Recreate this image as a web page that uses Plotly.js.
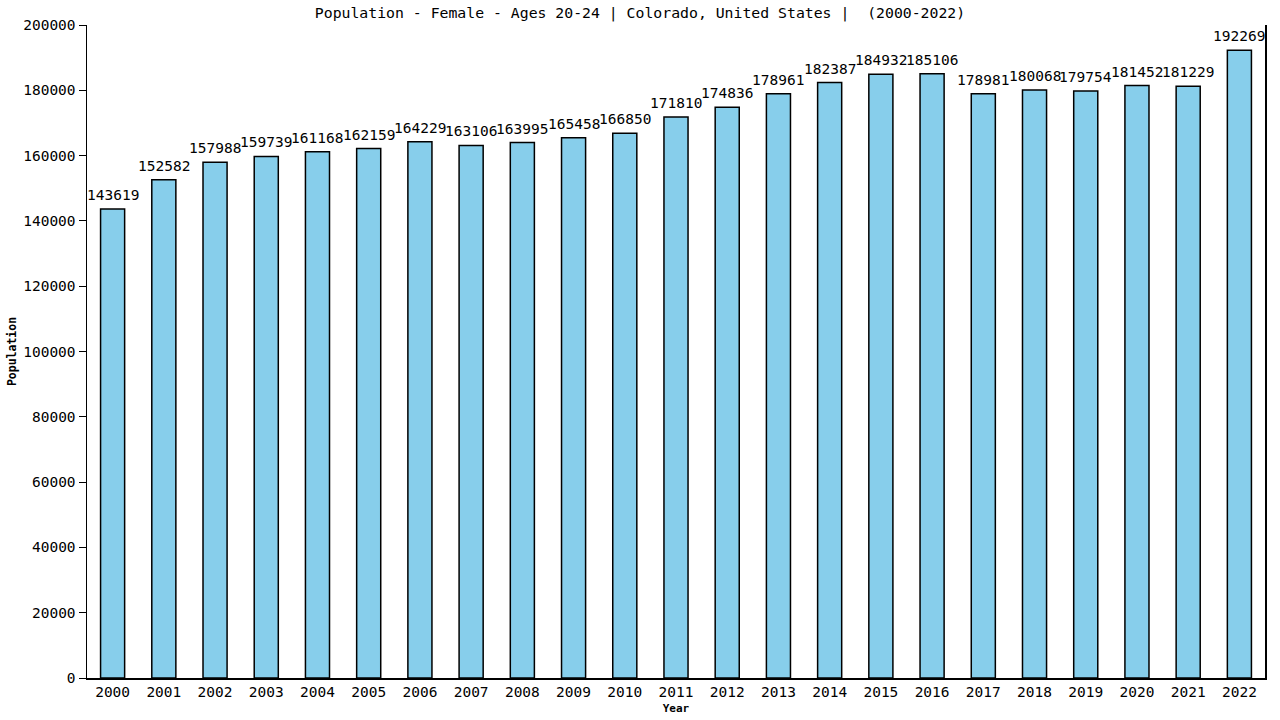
<!DOCTYPE html>
<html>
<head>
<meta charset="utf-8">
<script src="https://cdn.plot.ly/plotly-3.0.1.min.js"></script>
<style>
  body { margin: 0; background: #fff; }
  #chart { width: 1280px; height: 720px; }
</style>
</head>
<body>
<div id="chart"></div>
<script>
var years = ['2000', '2001', '2002', '2003', '2004', '2005', '2006', '2007', '2008', '2009', '2010', '2011',
  '2012', '2013', '2014', '2015', '2016', '2017', '2018', '2019', '2020', '2021', '2022'];
var population = [143619, 152582, 157988, 159739, 161168, 162159, 164229, 163106, 163995, 165458, 166850, 171810,
  174836, 178961, 182387, 184932, 185106, 178981, 180068, 179754, 181452, 181229, 192269];
var yTicks = [0, 20000, 40000, 60000, 80000, 100000, 120000, 140000, 160000, 180000, 200000];

var mono = 'DejaVu Sans Mono, monospace';

var trace = {
  x: years,
  y: population,
  type: 'bar',
  width: 0.47,
  marker: {
    color: '#87CEEB',
    line: { color: '#000', width: 1.5 }
  },
  hoverinfo: 'x+y'
};

// value labels above each bar (category axis -> use index position)
var labels = years.map(function (yr, i) {
  return {
    x: i,
    y: population[i],
    text: String(population[i]),
    showarrow: false,
    xanchor: 'center',
    yanchor: 'bottom',
    yshift: 4,
    font: { family: mono, size: 14.5, color: '#000' }
  };
});

var layout = {
  width: 1280,
  height: 720,
  margin: { l: 87, r: 15, t: 25, b: 42 },
  paper_bgcolor: '#fff',
  plot_bgcolor: '#fff',
  showlegend: false,
  font: { family: mono, color: '#000' },
  title: {
    text: 'Population - Female - Ages 20-24 | Colorado, United States |  (2000-2022)',
    font: { family: mono, size: 14.8, color: '#000' },
    x: 0.5,
    xanchor: 'center',
    y: 0.982,
    yanchor: 'middle'
  },
  xaxis: {
    type: 'category',
    range: [-0.5, years.length - 0.5],
    showline: true,
    linecolor: '#000',
    linewidth: 1.5,
    ticks: '',
    showgrid: false,
    zeroline: false,
    tickfont: { family: mono, size: 14.5, color: '#000' },
    title: {
      text: '<b>Year</b>',
      font: { family: mono, size: 11, color: '#000' },
      standoff: 5
    }
  },
  yaxis: {
    range: [0, 200000],
    tickvals: yTicks,
    ticktext: yTicks.map(String),
    showline: true,
    mirror: true,
    linecolor: '#000',
    linewidth: 1.5,
    ticks: 'outside',
    ticklen: 7,
    tickcolor: '#000',
    showgrid: false,
    zeroline: false,
    tickfont: { family: mono, size: 14.5, color: '#000' },
    title: {
      text: '<b>Population</b>',
      font: { family: mono, size: 11.5, color: '#000' },
      standoff: 4
    }
  },
  annotations: labels
};

Plotly.newPlot('chart', [trace], layout, { displayModeBar: false, staticPlot: true });
</script>
</body>
</html>
